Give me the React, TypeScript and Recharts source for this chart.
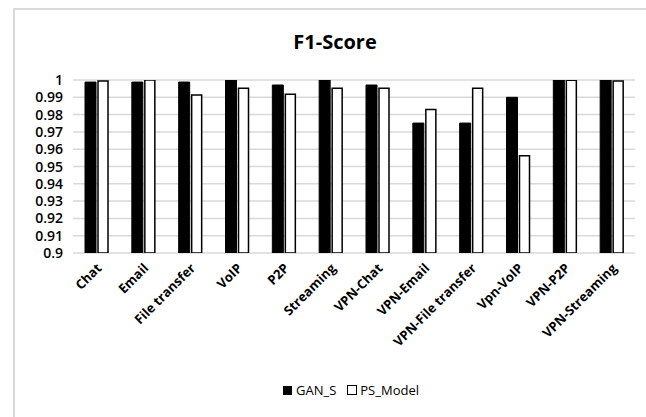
import React from "react";
import { BarChart, Bar, XAxis, YAxis, CartesianGrid } from "recharts";

const categories = [
  "Chat",
  "Email",
  "File transfer",
  "VoIP",
  "P2P",
  "Streaming",
  "VPN-Chat",
  "VPN-Email",
  "VPN-File transfer",
  "Vpn-VoIP",
  "VPN-P2P",
  "VPN-Streaming",
];
const ganS = [0.9988, 0.9988, 0.9988, 1.0, 0.9971, 1.0, 0.9971, 0.9751, 0.9751, 0.99, 1.0, 1.0];
const psModel = [0.9994, 1.0, 0.9913, 0.9952, 0.9917, 0.9952, 0.9952, 0.983, 0.9952, 0.9562, 0.9998, 0.9994];
const yTicks = [0.9, 0.91, 0.92, 0.93, 0.94, 0.95, 0.96, 0.97, 0.98, 0.99, 1];

const data = categories.map((c, i) => ({ name: c, GAN_S: ganS[i], PS_Model: psModel[i] }));

const FONT = "'Open Sans', 'Noto Sans', sans-serif";

const XTick = (props: any) => {
  const { x, y, payload } = props;
  return (
    <g transform={`translate(${x + 6},${y + 8})`}>
      <text
        x={0}
        y={0}
        textAnchor="end"
        transform="rotate(-45)"
        fontFamily={FONT}
        fontWeight={700}
        fontSize={13}
        fill="#000"
      >
        {payload.value}
      </text>
    </g>
  );
};

const YTick = (props: any) => {
  const { x, y, payload } = props;
  const v = payload.value;
  const label = v === 1 ? "1" : String(Math.round(v * 100) / 100);
  return (
    <text
      x={x - 2}
      y={y}
      dy={5}
      textAnchor="end"
      fontFamily={FONT}
      fontWeight={600}
      fontSize={14}
      fill="#000"
    >
      {label}
    </text>
  );
};

export default function App() {
  return (
    <div
      style={{
        position: "absolute",
        left: 0,
        top: 0,
        width: 646,
        height: 417,
        background: "#fff",
        overflow: "hidden",
      }}
    >
      <div
        style={{
          position: "absolute",
          left: 13,
          top: 8,
          width: 700,
          height: 500,
          borderTop: "2px solid #d9d9d9",
          borderLeft: "2px solid #d9d9d9",
        }}
      />
      <div
        style={{
          position: "absolute",
          left: 0,
          top: 28,
          width: 670,
          textAlign: "center",
          fontFamily: FONT,
          fontWeight: 700,
          fontSize: 20,
          color: "#000",
        }}
      >
        F1-Score
      </div>
      <div style={{ position: "absolute", left: 0, top: 0 }}>
        <BarChart
          width={646}
          height={417}
          data={data}
          margin={{ top: 80, right: 11, left: 13, bottom: 0 }}
          barCategoryGap="24%"
          barGap={2}
        >
          <CartesianGrid vertical={false} stroke="#d9d9d9" strokeWidth={1.5} />
          <XAxis
            dataKey="name"
            axisLine={false}
            tickLine={false}
            interval={0}
            height={164}
            tick={<XTick />}
          />
          <YAxis
            domain={[0.9, 1]}
            ticks={yTicks}
            interval={0}
            axisLine={false}
            tickLine={false}
            width={60}
            tick={<YTick />}
            allowDataOverflow
          />
          <Bar dataKey="GAN_S" fill="#000" stroke="#000" strokeWidth={1} barSize={11} isAnimationActive={false} />
          <Bar dataKey="PS_Model" fill="#fff" stroke="#000" strokeWidth={1.5} barSize={10} isAnimationActive={false} />
        </BarChart>
      </div>
      <div
        style={{
          position: "absolute",
          left: 283,
          top: 381,
          display: "flex",
          alignItems: "center",
          fontFamily: FONT,
          fontSize: 13,
          color: "#000",
        }}
      >
        <span style={{ display: "inline-block", width: 9, height: 9, background: "#000", marginRight: 4 }} />
        <span style={{ marginRight: 11 }}>GAN_S</span>
        <span
          style={{
            display: "inline-block",
            width: 8,
            height: 8,
            background: "#fff",
            border: "1px solid #000",
            marginRight: 3,
          }}
        />
        <span>PS_Model</span>
      </div>
    </div>
  );
}
